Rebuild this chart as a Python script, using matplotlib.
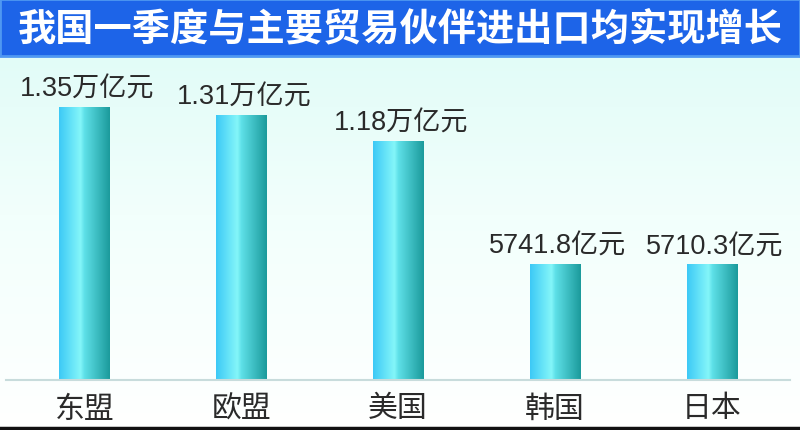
import numpy as np
import matplotlib
matplotlib.use("Agg")
import matplotlib.pyplot as plt
from matplotlib.colors import LinearSegmentedColormap
from matplotlib.patches import Rectangle
from matplotlib.lines import Line2D

plt.rcParams['font.family'] = ['Noto Sans CJK SC', 'DejaVu Sans']

# datos
titulo = "我国一季度与主要贸易伙伴进出口均实现增长"
paises = ["东盟", "欧盟", "美国", "韩国", "日本"]
valores = [13500, 13100, 11800, 5741.8, 5710.3]   # 亿元
etiquetas = ["1.35万亿元", "1.31万亿元", "1.18万亿元", "5741.8亿元", "5710.3亿元"]

W, H = 800, 431
fig = plt.figure(figsize=(W / 100, H / 100), dpi=100)

# fondo degradado
bg = fig.add_axes([0, 0, 1, 1], zorder=0)
grad = np.linspace(0, 1, 256).reshape(-1, 1)
cmap_bg = LinearSegmentedColormap.from_list("bg", ["#dcfbf6", "#f2fffc", "#ffffff"])
bg.imshow(grad, aspect="auto", cmap=cmap_bg, extent=[0, 1, 0, 1], origin="upper")
bg.set_axis_off()

# barra del titulo
fig.patches.append(Rectangle((0, 1 - 57 / H), 1, 57 / H, transform=fig.transFigure,
                             facecolor="#1d64e8", edgecolor="#4f98f2", linewidth=2, zorder=2))
fig.text(0.5, 1 - 29 / H, titulo, color="white", fontsize=27.5, fontweight="bold",
         ha="center", va="center", zorder=3)

# ejes principales
ax = fig.add_axes([6 / W, 50 / H, 784 / W, (381 - 57) / H], zorder=1)
ax.patch.set_alpha(0)
x = np.arange(len(paises))
barras = ax.bar(x, valores, width=0.32, color="none", edgecolor="none")
ax.set_xlim(-0.5, 4.5)
ax.set_ylim(0, 16040)

# degradado cilindrico de cada barra
cmap_bar = LinearSegmentedColormap.from_list(
    "bar", [(0, "#3cc9f6"), (0.42, "#84f6f9"), (0.5, "#5ee0e8"), (1, "#1b9a9b")])
fila = np.linspace(0, 1, 256).reshape(1, -1)
for b in barras:
    x0, y0 = b.get_x(), b.get_y()
    ax.imshow(fila, aspect="auto", cmap=cmap_bar,
              extent=[x0, x0 + b.get_width(), y0, y0 + b.get_height()], zorder=2)

for xi, v, t in zip(x, valores, etiquetas):
    ax.annotate(t, (xi, v), xytext=(2, 4), textcoords="offset points",
                ha="center", va="bottom", fontsize=19.5, color="#2a2a2a",
                family=["Liberation Sans", "Noto Sans CJK SC"])

for s in ["top", "right", "left"]:
    ax.spines[s].set_visible(False)
ax.spines["bottom"].set_color("#c8dcdc")
ax.spines["bottom"].set_linewidth(1.5)
ax.set_yticks([])
ax.set_xticks(x)
ax.set_xticklabels(paises, fontsize=21.5, color="#2a2a2a")
ax.tick_params(axis="x", length=0, pad=9)

# linea negra inferior
fig.add_artist(Line2D([0, 1], [2 / H, 2 / H], transform=fig.transFigure,
                      color="#111111", linewidth=2.5))

fig.savefig("out.png", dpi=100)
